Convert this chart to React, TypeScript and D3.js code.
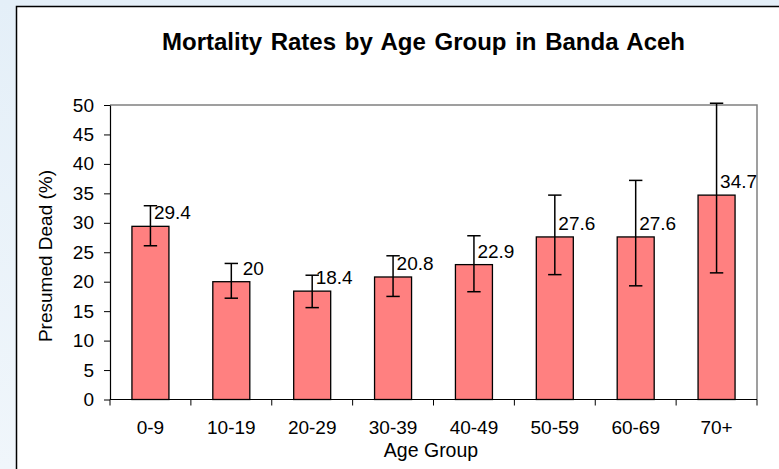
import { useEffect, useRef } from "react";
import * as d3 from "d3";

const ageGroups = ["0-9", "10-19", "20-29", "30-39", "40-49", "50-59", "60-69", "70+"];
const presumedDead = [29.4, 20, 18.4, 20.8, 22.9, 27.6, 27.6, 34.7];
const errUpper = [32.9, 23.1, 21.1, 24.4, 27.8, 34.7, 37.2, 50.3];
const errLower = [26.1, 17.2, 15.6, 17.5, 18.3, 21.2, 19.3, 21.5];
const yTicks = [0, 5, 10, 15, 20, 25, 30, 35, 40, 45, 50];

const W = 779, H = 469;
const FONT = "'Liberation Sans', Arial, sans-serif";

const App = () => {
  const ref = useRef<SVGSVGElement>(null);

  useEffect(() => {
    const svg = d3.select(ref.current);
    svg.selectAll("*").remove();

    // background gradient + white panel
    const defs = svg.append("defs");
    const grad = defs.append("linearGradient").attr("id", "bg").attr("x1", 0).attr("y1", 0).attr("x2", 0).attr("y2", 1);
    grad.append("stop").attr("offset", "0%").attr("stop-color", "#e4eff8");
    grad.append("stop").attr("offset", "100%").attr("stop-color", "#f0f6fb");
    svg.append("rect").attr("width", W).attr("height", H).attr("fill", "url(#bg)");
    svg.append("rect").attr("x", 16.5).attr("y", 6.5).attr("width", W + 20).attr("height", H + 20)
      .attr("fill", "#fff").attr("stroke", "#000").attr("stroke-width", 1.5);

    const left = 110, right = 757, top = 105, bottom = 399.5;

    const x = d3.scaleBand().domain(ageGroups).range([left, right]).paddingInner(0).paddingOuter(0);
    const y = d3.scaleLinear().domain([0, 50]).range([bottom, top]);
    const cx = (i: number) => x(ageGroups[i])! + x.bandwidth() / 2;

    // plot border (top/right gray)
    svg.append("path")
      .attr("d", `M${left},${top}H${right}V${bottom}`)
      .attr("fill", "none").attr("stroke", "#808080").attr("stroke-width", 1.5);

    // y axis
    const yAxis = svg.append("g").attr("transform", `translate(${left},0)`)
      .call(d3.axisLeft(y).tickValues(yTicks).tickSize(6).tickSizeOuter(0).tickPadding(10));
    yAxis.select(".domain").attr("stroke", "#000").attr("stroke-width", 1.2);
    yAxis.selectAll("line").attr("stroke", "#000");
    yAxis.selectAll("text").attr("font-family", FONT).attr("font-size", 19).attr("fill", "#000");

    // bars
    const barW = 37;
    svg.selectAll("rect.bar")
      .data(presumedDead)
      .enter()
      .append("rect")
      .attr("class", "bar")
      .attr("x", (d, i) => cx(i) - barW / 2)
      .attr("y", d => y(d))
      .attr("width", barW)
      .attr("height", d => bottom - y(d))
      .attr("fill", "#ff8080")
      .attr("stroke", "#000")
      .attr("stroke-width", 1.3);

    // x axis
    const xTickPos = d3.range(ageGroups.length + 1).map(i => left + i * x.step());
    svg.append("line").attr("x1", left).attr("x2", right).attr("y1", bottom).attr("y2", bottom)
      .attr("stroke", "#000").attr("stroke-width", 1.2);
    svg.selectAll("line.xtick").data(xTickPos).enter().append("line")
      .attr("x1", d => d).attr("x2", d => d).attr("y1", bottom).attr("y2", bottom + 6)
      .attr("stroke", "#000");
    svg.selectAll("text.xlab").data(ageGroups).enter().append("text")
      .attr("x", (d, i) => cx(i))
      .attr("y", 434)
      .attr("text-anchor", "middle")
      .attr("font-family", FONT).attr("font-size", 19)
      .text(d => d);

    // error bars
    const cap = 6.7;
    const eb = svg.selectAll("g.err").data(presumedDead).enter().append("g")
      .attr("stroke", "#000").attr("stroke-width", 1.5);
    eb.append("line")
      .attr("x1", (d, i) => cx(i)).attr("x2", (d, i) => cx(i))
      .attr("y1", (d, i) => y(errUpper[i])).attr("y2", (d, i) => y(errLower[i]));
    [errUpper, errLower].forEach(arr => {
      eb.append("line")
        .attr("x1", (d, i) => cx(i) - cap).attr("x2", (d, i) => cx(i) + cap)
        .attr("y1", (d, i) => y(arr[i])).attr("y2", (d, i) => y(arr[i]));
    });

    // data labels
    svg.selectAll("text.val").data(presumedDead).enter().append("text")
      .attr("x", (d, i) => cx(i) + 22)
      .attr("y", d => y(d) - 7)
      .attr("text-anchor", "middle")
      .attr("font-family", FONT).attr("font-size", 19)
      .text(d => String(d));

    // titles
    svg.append("text").attr("x", 423.5).attr("y", 50).attr("text-anchor", "middle")
      .attr("font-family", FONT).attr("font-size", 24).attr("font-weight", "bold")
      .style("word-spacing", "2px")
      .text("Mortality Rates by Age Group in Banda Aceh");
    svg.append("text").attr("x", 431).attr("y", 457).attr("text-anchor", "middle")
      .attr("font-family", FONT).attr("font-size", 19.5)
      .text("Age Group");
    svg.append("text").attr("transform", `translate(52,256) rotate(-90)`)
      .attr("text-anchor", "middle")
      .attr("font-family", FONT).attr("font-size", 19)
      .text("Presumed Dead (%)");
  }, []);

  return (
    <svg ref={ref} width={W} height={H} style={{ position: "absolute", left: 0, top: 0 }} />
  );
};

export default App;
